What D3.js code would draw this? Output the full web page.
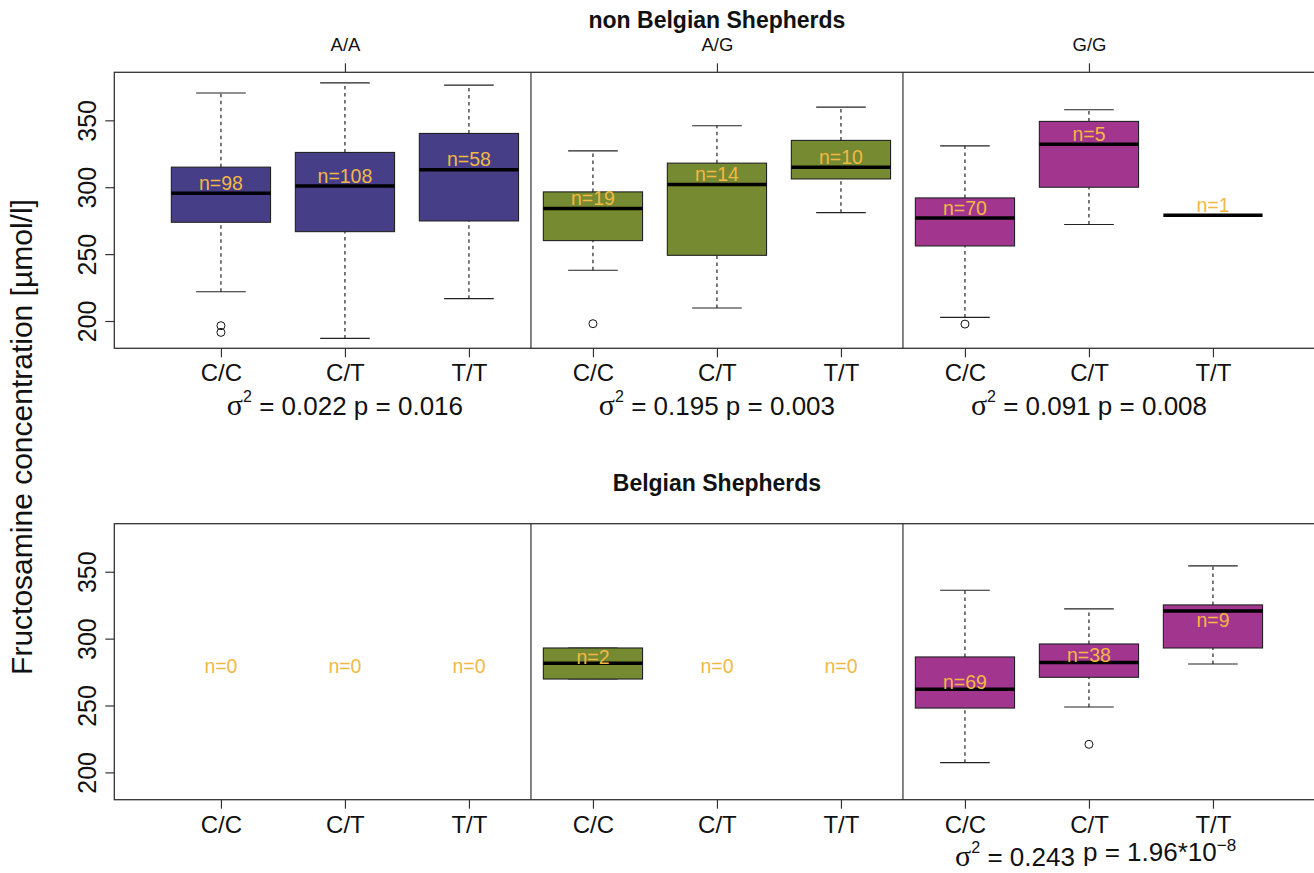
<!DOCTYPE html>
<html>
<head>
<meta charset="utf-8">
<script src="https://cdn.jsdelivr.net/npm/d3@7"></script>
<style>
  body { margin: 0; background: #fff; }
  text { font-family: "Liberation Sans", Arial, Helvetica, sans-serif; }
</style>
</head>
<body>
<script>
const groups = ["A/A", "A/G", "G/G"];
const genotypes = ["C/C", "C/T", "T/T"];
const groupColors = ["#463e87", "#768a31", "#a2368f"];
const yTicks = [200, 250, 300, 350];

// each box: [lower whisker, Q1, median, Q3, upper whisker], null = no dogs
const nonBelgianStats = [
  [221.9, 273.8, 295.5, 315.0, 370.4],
  [187.0, 266.8, 301.0, 326.0, 378.0],
  [216.7, 274.8, 313.0, 340.2, 376.3],
  [237.9, 260.1, 284.1, 296.5, 327.2],
  [209.7, 249.1, 302.0, 318.0, 345.9],
  [281.0, 306.2, 315.0, 335.0, 359.9],
  [202.7, 256.1, 277.0, 292.0, 330.9],
  [272.1, 300.0, 332.2, 349.2, 357.9],
  [279.0, 279.0, 279.0, 279.0, 279.0]
];
const nonBelgianN = [98, 108, 58, 19, 14, 10, 70, 5, 1];
const nonBelgianOutliers = [[196.5, 191.5], [], [], [198], [], [], [197.7], [], []];
const nonBelgianLabelAt = [303.2, 308.5, 320.7, 291.5, 309.5, 322.7, 284.5, 339.4, 286.5];
const nonBelgianSigma = ["0.022", "0.195", "0.091"];
const nonBelgianP = ["0.016", "0.003", "0.008"];

const belgianStats = [
  null, null, null,
  [269.8, 269.8, 281.6, 293.0, 293.0],
  null, null,
  [207.3, 248.1, 262.1, 286.3, 336.2],
  [248.9, 271.1, 282.1, 296.0, 322.2],
  [281.0, 293.0, 320.7, 325.2, 354.4]
];
const belgianN = [0, 0, 0, 2, 0, 0, 69, 38, 9];
const belgianOutliers = [[], [], [], [], [], [], [], [221], []];
const belgianLabelAt = [279.5, 279.5, 279.5, 286.3, 279.3, 279.3, 267.6, 287.6, 313.8];
const belgianSigma = "0.243";
const belgianP = "1.96*10";
const belgianPExp = "\u22128";

const W = 1314, H = 873;
const svg = d3.select("body").append("svg")
  .attr("width", W).attr("height", H);

// 9 boxes, R style xlim c(0.5, 9.5) plus 4%
const x = d3.scaleLinear().domain([0.14, 9.86]).range([114.3, 1319.6]);
const boxW = x(1.8) - x(1.0);
const capW = x(1.4) - x(1.0);
const yDomain = [179.6, 385.9];
const labelColor = "#f2b845";

function panel(top, stats, ns, outliers, labelAt, title, showGroups) {
  const bottom = top + 276;
  const y = d3.scaleLinear().domain(yDomain).range([bottom, top]);
  const g = svg.append("g");

  // frame
  g.append("rect")
    .attr("x", x(0.14)).attr("y", top)
    .attr("width", x(9.86) - x(0.14)).attr("height", bottom - top)
    .attr("fill", "none").attr("stroke", "#333").attr("stroke-width", 1.3);

  // separators between allele groups
  [3.5, 6.5].forEach(p => {
    g.append("line").attr("x1", x(p)).attr("x2", x(p))
      .attr("y1", top).attr("y2", bottom)
      .attr("stroke", "#333").attr("stroke-width", 1.2);
  });

  // y axis
  const yAxis = g.append("g").attr("transform", `translate(${x(0.14)},0)`)
    .call(d3.axisLeft(y).tickValues(yTicks).tickSize(9).tickFormat(d3.format("d")));
  yAxis.select(".domain").remove();
  yAxis.selectAll(".tick line").attr("stroke", "#333").attr("stroke-width", 1.2);
  yAxis.selectAll(".tick text")
    .attr("transform", "rotate(-90)")
    .attr("x", 0).attr("y", -18).attr("dy", 0)
    .attr("text-anchor", "middle")
    .attr("font-size", 25).attr("fill", "#111");

  // x axis, genotypes
  const xAxis = g.append("g").attr("transform", `translate(0,${bottom})`)
    .call(d3.axisBottom(x).tickValues(d3.range(1, 10)).tickSize(9)
      .tickFormat(d => genotypes[(d - 1) % 3]));
  xAxis.select(".domain").remove();
  xAxis.selectAll(".tick line").attr("stroke", "#333").attr("stroke-width", 1.2);
  xAxis.selectAll(".tick text").attr("y", 0).attr("dy", 33)
    .attr("font-size", 24).attr("fill", "#111");

  // top axis, allele groups
  if (showGroups) {
    const tAxis = g.append("g").attr("transform", `translate(0,${top})`)
      .call(d3.axisTop(x).tickValues([2, 5, 8]).tickSize(9)
        .tickFormat(d => groups[(d - 2) / 3]));
    tAxis.select(".domain").remove();
    tAxis.selectAll(".tick line").attr("stroke", "#333").attr("stroke-width", 1.2);
    tAxis.selectAll(".tick text").attr("y", 0).attr("dy", -21)
      .attr("font-size", 18.5).attr("fill", "#111");
  }

  // title
  g.append("text").attr("x", x(5)).attr("y", title.y)
    .attr("text-anchor", "middle").attr("font-weight", "bold")
    .attr("font-size", 23).attr("fill", "#111").text(title.text);

  // boxes
  stats.forEach((s, i) => {
    const p = i + 1, cx = x(p);
    const col = groupColors[Math.floor(i / 3)];
    if (s) {
      const [lo, q1, med, q3, hi] = s;
      const b = g.append("g");
      [[q3, hi], [lo, q1]].forEach(([a, c]) => {
        b.append("line").attr("x1", cx).attr("x2", cx)
          .attr("y1", y(a)).attr("y2", y(c))
          .attr("stroke", "#222").attr("stroke-width", 1.2)
          .attr("stroke-dasharray", "3.5,3.5");
      });
      [lo, hi].forEach(v => {
        b.append("line").attr("x1", cx - capW / 2).attr("x2", cx + capW / 2)
          .attr("y1", y(v)).attr("y2", y(v))
          .attr("stroke", "#222").attr("stroke-width", 1.1);
      });
      if (q3 > q1) {
        b.append("rect").attr("x", cx - boxW / 2).attr("width", boxW)
          .attr("y", y(q3)).attr("height", y(q1) - y(q3))
          .attr("fill", col).attr("stroke", "#222").attr("stroke-width", 1.1);
      }
      b.append("line").attr("x1", cx - boxW / 2).attr("x2", cx + boxW / 2)
        .attr("y1", y(med)).attr("y2", y(med))
        .attr("stroke", "#000").attr("stroke-width", 3.5);
    }
    outliers[i].forEach(v => {
      g.append("circle").attr("cx", cx).attr("cy", y(v)).attr("r", 4)
        .attr("fill", "none").attr("stroke", "#111").attr("stroke-width", 1);
    });
    g.append("text").attr("x", cx).attr("y", y(labelAt[i])).attr("dy", "0.35em")
      .attr("text-anchor", "middle").attr("font-size", 19.5)
      .attr("fill", labelColor).text("n=" + ns[i]);
  });
  return g;
}

function sigmaText(g, cx, baseY, sigma, p, anchor) {
  const t = g.append("text").attr("x", cx).attr("y", baseY)
    .attr("text-anchor", anchor).attr("font-size", 26).attr("fill", "#111");
  t.append("tspan").attr("font-family", "'Liberation Serif', 'Times New Roman', serif")
    .attr("font-size", 30).text("\u03c3");
  t.append("tspan").attr("font-size", 16).attr("dy", -13).text("2");
  t.append("tspan").attr("dy", 13).text(" = " + sigma + (p ? " p = " + p : ""));
  return t;
}

const top1 = panel(72.3, nonBelgianStats, nonBelgianN, nonBelgianOutliers, nonBelgianLabelAt,
  { text: "non Belgian Shepherds", y: 28 }, true);
[2, 5, 8].forEach((p, k) => sigmaText(top1, x(p), 415, nonBelgianSigma[k], nonBelgianP[k], "middle"));

const bot = panel(523.7, belgianStats, belgianN, belgianOutliers, belgianLabelAt,
  { text: "Belgian Shepherds", y: 491 }, false);
sigmaText(bot, 1015, 866, belgianSigma, null, "middle");
const pt = bot.append("text").attr("x", 1083).attr("y", 861)
  .attr("font-size", 26).attr("fill", "#111");
pt.append("tspan").text("p = " + belgianP);
pt.append("tspan").attr("font-size", 17).attr("dy", -10).text(belgianPExp);

// shared y title
svg.append("text")
  .attr("transform", "translate(32,437) rotate(-90)")
  .attr("text-anchor", "middle").attr("font-size", 30).attr("fill", "#111")
  .text("Fructosamine concentration [\u00b5mol/l]");
</script>
</body>
</html>
